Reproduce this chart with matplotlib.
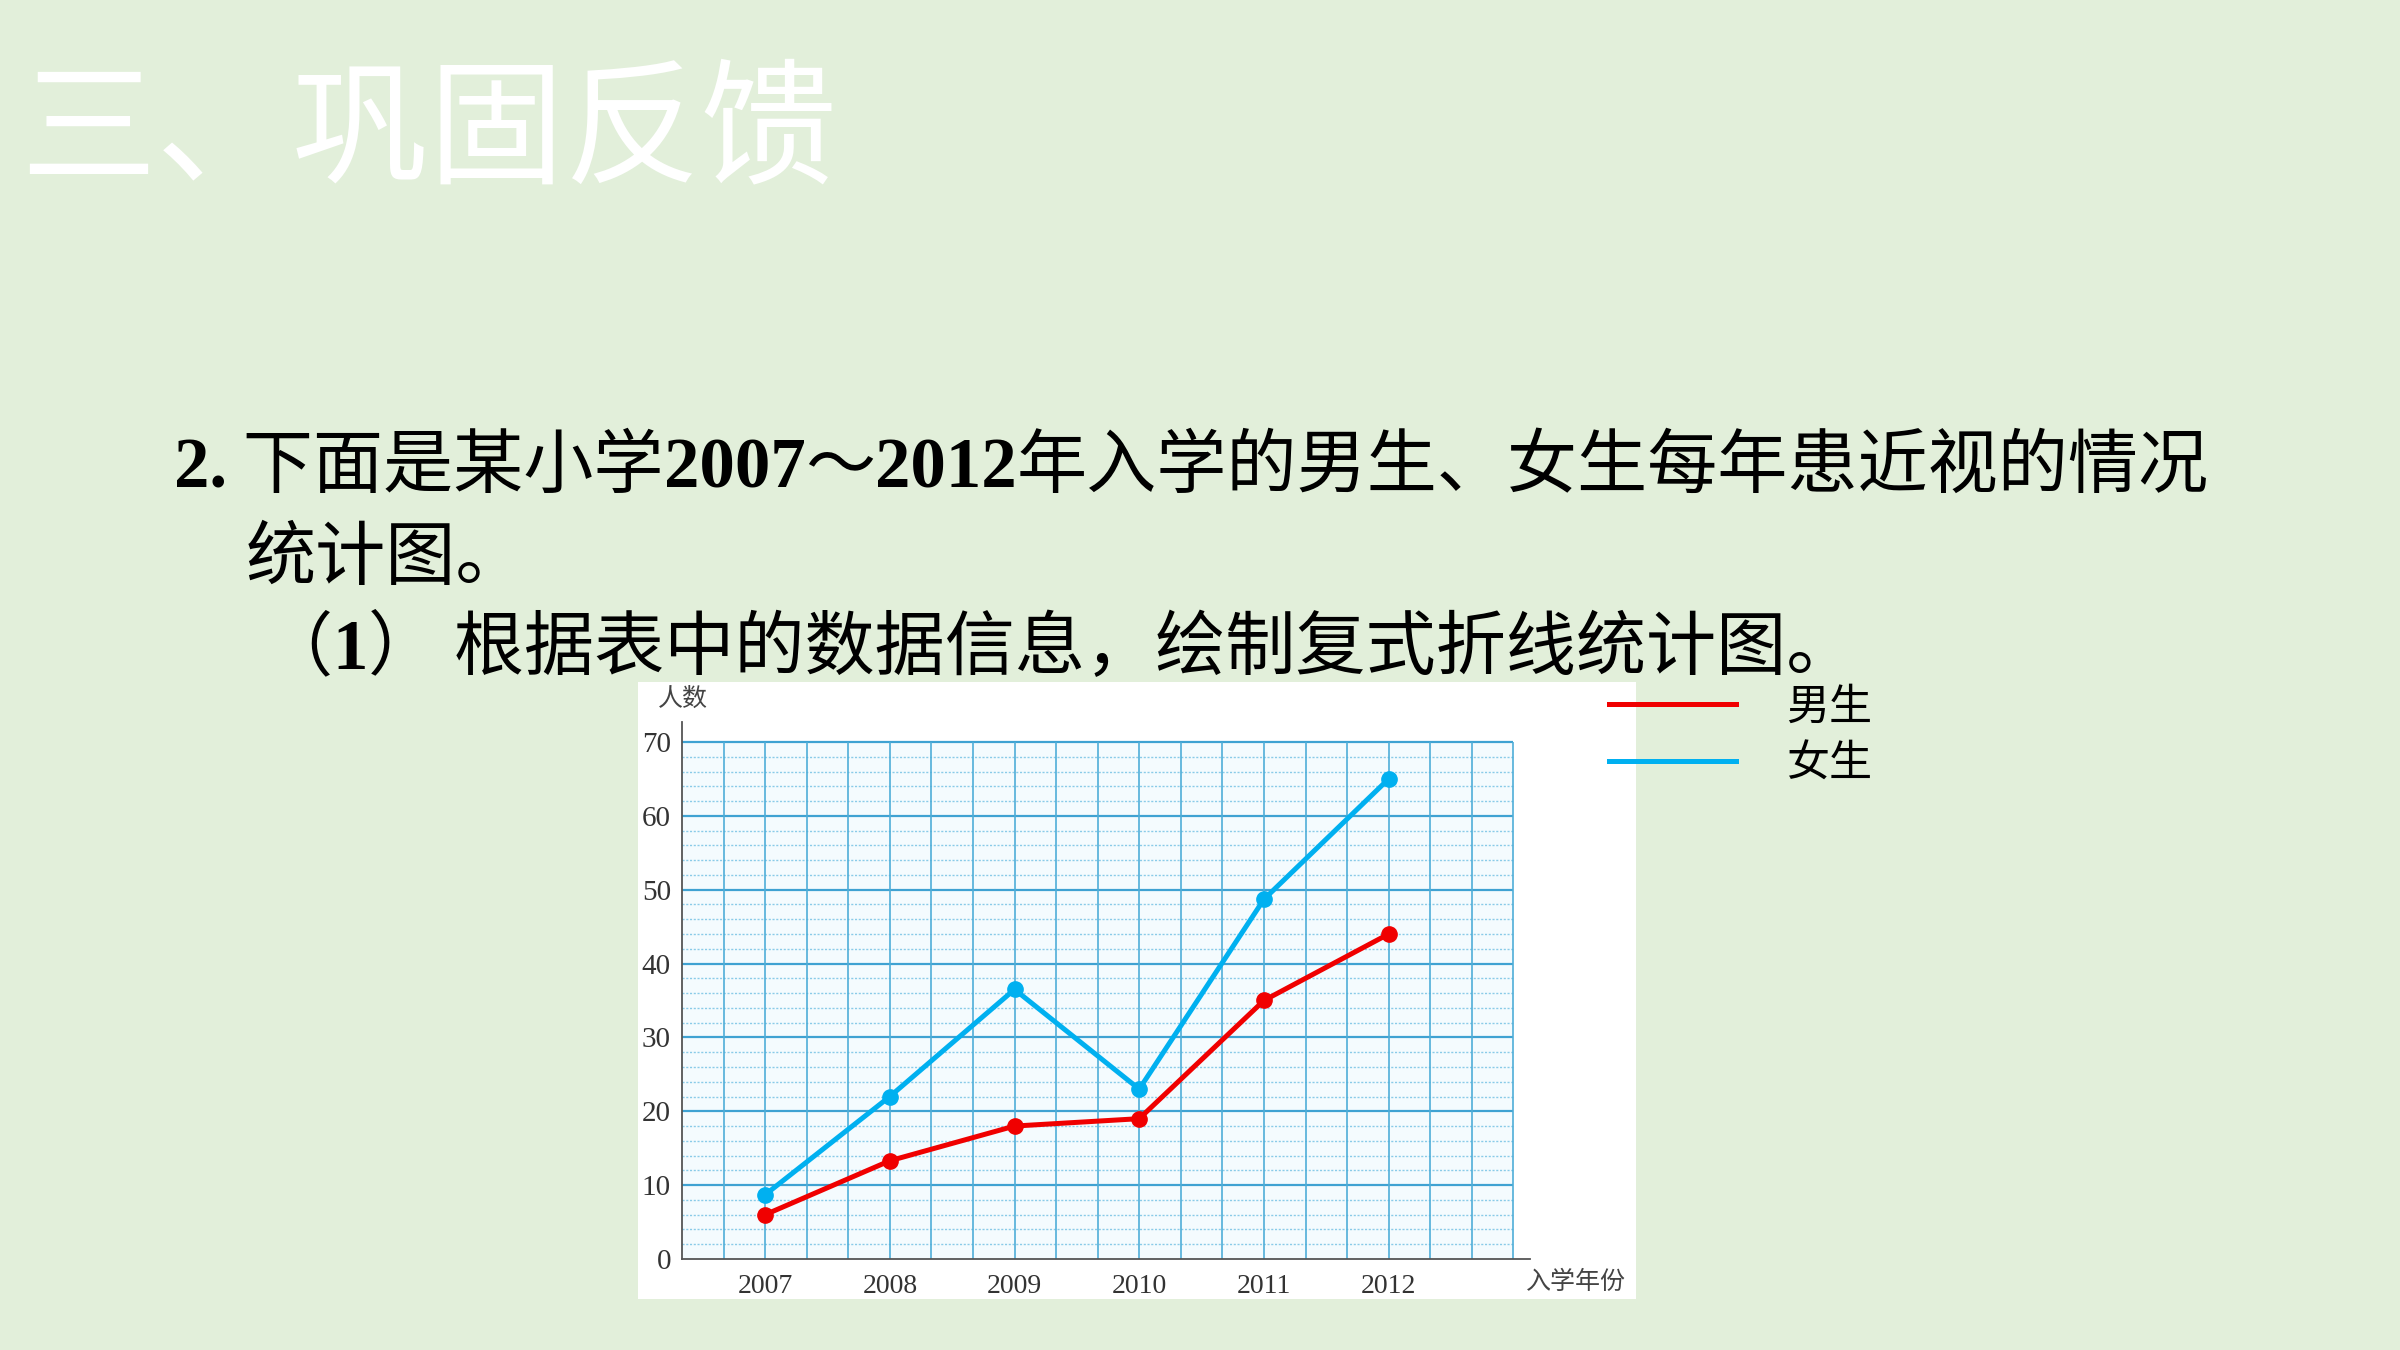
import numpy as np
import matplotlib.pyplot as plt
from matplotlib.patches import Rectangle
from matplotlib.lines import Line2D

# data
years = [2007, 2008, 2009, 2010, 2011, 2012]
boys = [6, 13.3, 18, 19, 35, 44]
girls = [8.7, 22, 36.5, 23, 48.7, 65]
yticks = [0, 10, 20, 30, 40, 50, 60, 70]
series_names = ['男生', '女生']

W, H = 2400, 1350
BG = '#E2EFDA'
RED = '#F00000'
BLUE = '#00B0F0'
CJK = ['Noto Sans CJK SC', 'DejaVu Sans']
SERIF = ['Liberation Serif', 'Noto Sans CJK SC']

plt.rcParams['font.family'] = CJK


def fx(x):
    return x / W


def fy(y):
    return 1 - y / H


fig = plt.figure(figsize=(24, 13.5), dpi=100, facecolor=BG)

# title
fig.text(fx(20), fy(134), '三、巩固反馈', color='white', fontsize=98,
         va='center', ha='left', family=CJK)

# question text, mixed fonts
renderer = fig.canvas.get_renderer()


def runs(x, y, parts):
    for s, kw in parts:
        t = fig.text(fx(x), fy(y), s, va='baseline', ha='left', color='black', **kw)
        x += t.get_window_extent(renderer=renderer).width


num = dict(family=SERIF, fontweight='bold', fontsize=51)
cn = dict(family=CJK, fontsize=50.5)
runs(174, 487, [('2.', num), (' 下面是某小学', cn), ('2007', num), ('～', cn),
                ('2012', num), ('年入学的男生、女生每年患近视的情况', cn)])
runs(246, 579, [('统计图。', cn)])
runs(262, 669, [('（', cn), ('1', num), ('） 根据表中的数据信息，绘制复式折线统计图。', cn)])

# white picture area (behind the chart axes)
fig.patches.append(Rectangle((fx(638), fy(1299)), fx(1636) - fx(638), fy(682) - fy(1299),
                             transform=fig.transFigure, facecolor='white',
                             edgecolor='none', zorder=-1))

# chart axes: 124.7 px per year, 7.386 px per person
px_year, px_unit = 124.7, 7.386
ax = fig.add_axes([fx(682), fy(1259), (1530 - 682) / W, (1259 - 722) / H])
x0, x1 = 2007 - 2 / 3, 2013
ax.set_xlim(x0, x0 + (1530 - 682) / px_year)
ax.set_ylim(0, (1259 - 722) / px_unit)
ax.set_facecolor('none')

ax.add_patch(Rectangle((x0, 0), x1 - x0, 70, facecolor='#F4FBFE', edgecolor='none', zorder=0))
for v in np.arange(2, 71, 2):
    if v % 10 == 0:
        ax.hlines(v, x0, x1, color='#3FA2D2', lw=1.6, zorder=1)
    else:
        ax.hlines(v, x0, x1, color='#8ACBE8', lw=1.0, ls=(0, (1.5, 1.2)), zorder=1)
for i in range(1, 21):
    ax.vlines(x0 + i / 3, 0, 70, color='#4FAED8', lw=1.2, zorder=1)

ax.plot(years, boys, color=RED, lw=3.6, marker='o', ms=11, zorder=3, clip_on=False)
ax.plot(years, girls, color=BLUE, lw=3.6, marker='o', ms=11, zorder=3, clip_on=False)

for s in ['top', 'right']:
    ax.spines[s].set_visible(False)
for s in ['left', 'bottom']:
    ax.spines[s].set_color('#555555')
    ax.spines[s].set_linewidth(1.3)
ax.set_xticks(years)
ax.set_xticklabels([str(y) for y in years], family=SERIF, fontsize=20, color='#333333')
ax.set_yticks(yticks)
ax.set_yticklabels([str(v) for v in yticks], family=SERIF, fontsize=21, color='#333333')
ax.tick_params(axis='both', length=0)
ax.tick_params(axis='x', pad=11)
ax.tick_params(axis='y', pad=8)

fig.text(fx(683), fy(699), '人数', fontsize=18, color='#444444', ha='center', va='center')
fig.text(fx(1576), fy(1282), '入学年份', fontsize=18, color='#444444', ha='center', va='center')

# legend
for name, color, yy in zip(series_names, [RED, BLUE], [704, 761]):
    fig.add_artist(Line2D([fx(1609), fx(1736)], [fy(yy), fy(yy)], color=color,
                          lw=3.6, transform=fig.transFigure))
    fig.text(fx(1786), fy(yy + 4), name, fontsize=31, color='black', ha='left', va='center')

fig.savefig('out.png', dpi=100, facecolor=BG)
